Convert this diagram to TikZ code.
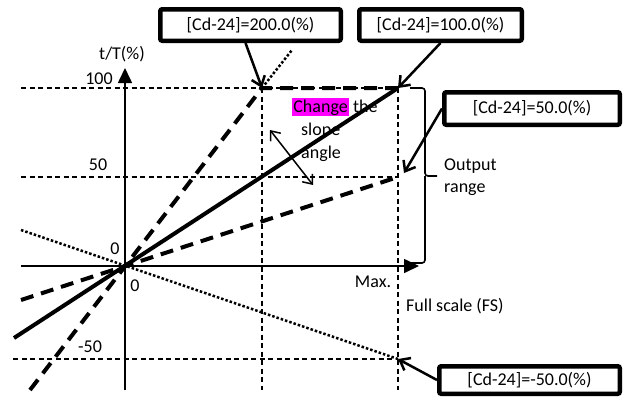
\documentclass[tikz,border=0pt]{standalone}
\usepackage{fontspec}
\setmainfont{Carlito}
\usetikzlibrary{arrows.meta}
\definecolor{hlmag}{RGB}{255,0,255}
\begin{document}
\begin{tikzpicture}[x=1bp,y=-1bp,
  font=\fontsize{18bp}{22bp}\selectfont,
  gridline/.style={line width=1.2bp, dash pattern=on 5bp off 3.5bp},
  axisline/.style={line width=1.6bp, -{Triangle[length=15bp,width=14bp]}},
  thickdash/.style={line width=4bp, dash pattern=on 13bp off 8bp},
  solidline/.style={line width=4bp},
  dotline/.style={line width=2.5bp, dash pattern=on 2.5bp off 2bp},
  callout/.style={draw, line width=4.5bp, rounded corners=2bp, inner sep=0, align=center},
  pointer/.style={line width=2.5bp, -{Straight Barb[length=9bp,width=14bp]}},
  lbl/.style={inner sep=0}]
\useasboundingbox (0,0) rectangle (624,397);
% coordinates
\coordinate (O) at (125,266);
\coordinate (h100l) at (21,88);
\coordinate (h100r) at (398,88);
\coordinate (h50l) at (21,177);
\coordinate (h50r) at (398,177);
\coordinate (hm50l) at (13,359);
\coordinate (hm50r) at (398,359);
\coordinate (v200t) at (262,88);
\coordinate (v200b) at (262,390);
\coordinate (vmaxt) at (398,88);
\coordinate (vmaxb) at (398,390);
% grid
\draw[gridline] (h100l) -- (h100r);
\draw[gridline] (h50l) -- (h50r);
\draw[gridline] (hm50l) -- (hm50r);
\draw[gridline] (v200t) -- (v200b);
\draw[gridline] (vmaxt) -- (vmaxb);
% characteristic lines
\coordinate (s100a) at (14,338);
\draw[solidline] (s100a) -- (h100r);
\coordinate (s200a) at (30,390);
\coordinate (s200b) at (292,50);
\draw[thickdash] (s200a) -- (v200t) -- (h100r);
\draw[dotline] (v200t) -- (s200b);
\coordinate (s50a) at (21,300);
\draw[thickdash] (s50a) -- (h50r);
\coordinate (sm50a) at (21,230);
\draw[dotline] (sm50a) -- (hm50r);
% axes
\coordinate (yb) at (125,390);
\coordinate (yt) at (125,68);
\coordinate (xl) at (21,266);
\coordinate (xr) at (419,266);
\draw[axisline] (yb) -- (yt);
\draw[axisline] (xl) -- (xr);
% axis labels
\node[lbl] (ylab) at (122,54) {t/T(\%)};
\node[lbl] (l100) at (99,79) {100};
\node[lbl] (l50) at (98,165) {50};
\node[lbl] (l0a) at (115,249) {0};
\node[lbl] (l0b) at (135,286) {0};
\node[lbl] (lm50) at (90,347) {-50};
\node[lbl] (lmax) at (373,282) {Max.};
\node[lbl, anchor=west] (lfs) at (406,306) {Full scale (FS)};
% output range bracket
\coordinate (bt) at (410,88);
\coordinate (bm) at (425,176);
\coordinate (bk) at (437,176);
\coordinate (bb) at (410,263);
\draw[line width=1.6bp, rounded corners=3bp] (bt) -| (bm) -- (bk);
\draw[line width=1.6bp, rounded corners=3bp] (bm) |- (bb);
\node[lbl, anchor=base west] (out1) at (444,170) {Output};
\node[lbl, anchor=base west] (out2) at (444,192) {range};
% change slope text
\node[lbl, anchor=base west] (chg1) at (292,112) {{\fboxsep=1.2bp\colorbox{hlmag}{Change}} the};
\node[lbl, anchor=base west] (chg2) at (301,135) {slope};
\node[lbl, anchor=base west] (chg3) at (301,158) {angle};
\coordinate (da) at (270,130);
\coordinate (db) at (313,185);
\draw[line width=1.5bp, {Straight Barb[length=8bp,width=13bp]}-{Straight Barb[length=8bp,width=13bp]}] (da) -- (db);
% callouts
\node[callout, minimum width=180.5bp, minimum height=31.5bp] (b200) at (250.5,25) {[Cd-24]=200.0(\%)};
\node[callout, minimum width=162.5bp, minimum height=31.5bp] (b100) at (440.5,25) {[Cd-24]=100.0(\%)};
\node[callout, minimum width=175.5bp, minimum height=32.5bp] (b50) at (532,108.5) {[Cd-24]=50.0(\%)};
\node[callout, minimum width=180.5bp, minimum height=27.5bp] (bm50) at (529.5,380) {[Cd-24]=-50.0(\%)};
\coordinate (p50) at (404,173);
\draw[pointer] ([xshift=-5bp]b200.south) -- (v200t);
\draw[pointer] (b100.south) -- (h100r);
\draw[pointer] (b50.west) -- (p50);
\draw[pointer] (bm50.west) -- (hm50r);
\end{tikzpicture}
\end{document}
